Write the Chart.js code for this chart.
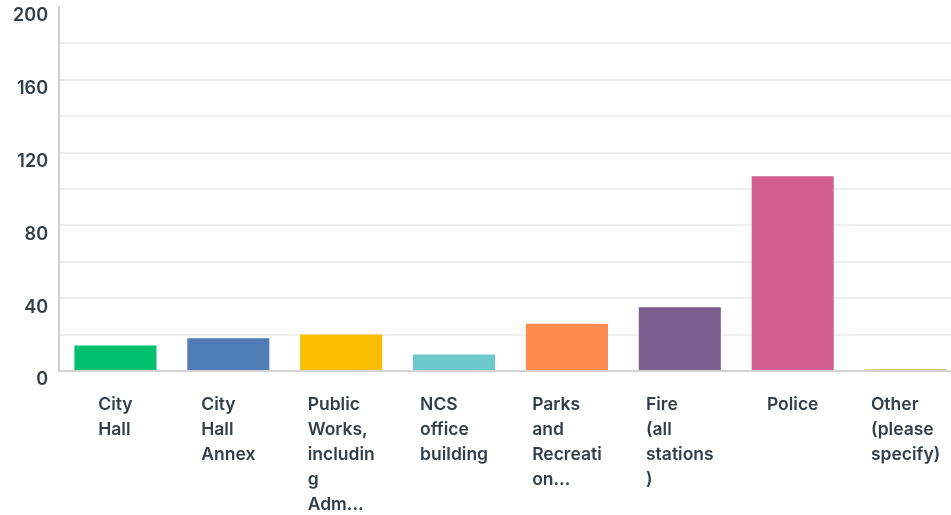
<!DOCTYPE html>
<html>
<head>
<meta charset="utf-8">
<script src="https://cdn.jsdelivr.net/npm/chart.js@4"></script>
<style>
html,body{margin:0;padding:0;background:#fff;overflow:hidden;width:951px;height:515px;}
canvas{display:block;}
</style>
</head>
<body>
<canvas id="c" width="962" height="515"></canvas>
<script>
const categories = [
  ["City","Hall"],
  ["City","Hall","Annex"],
  ["Public","Works,","includin","g","Adm..."],
  ["NCS","office","building"],
  ["Parks","and","Recreati","on..."],
  ["Fire","(all","stations",")"],
  ["Police"],
  ["Other","(please","specify)"]
];
const values = [14, 18, 20, 9, 26, 35, 107, 1];
const barColors = ["#00bf6f","#507cb6","#f9be00","#6bc8cd","#ff8b4f","#7d5e8f","#d25f90","#d4bb6a"];
const yTicks = [0, 40, 80, 120, 160, 200];

const FONT = 'Inter, "Open Sans", sans-serif';
const TEXT = '#333e48';

const xLabelPlugin = {
  id: 'xLabels',
  afterDraw(chart) {
    const ctx = chart.ctx;
    const xs = chart.scales.x;
    ctx.save();
    ctx.font = '600 17.5px ' + FONT;
    ctx.fillStyle = TEXT;
    ctx.textAlign = 'left';
    ctx.textBaseline = 'alphabetic';
    categories.forEach((lines, i) => {
      const cx = xs.getPixelForValue(i);
      const w = Math.max(...lines.map(l => ctx.measureText(l).width));
      const left = cx - w / 2;
      lines.forEach((l, j) => ctx.fillText(l, left, chart.chartArea.bottom + 39 + j * 25));
    });
    ctx.restore();
  }
};

new Chart(document.getElementById('c'), {
  type: 'bar',
  data: {
    labels: categories.map(c => c.join(' ')),
    datasets: [{
      data: values,
      backgroundColor: barColors,
      borderWidth: 0,
      categoryPercentage: 1,
      barPercentage: 0.727
    }]
  },
  options: {
    responsive: false,
    devicePixelRatio: 1,
    animation: false,
    layout: { padding: { top: 7, left: 0, right: 0, bottom: 0 } },
    plugins: { legend: { display: false }, tooltip: { enabled: false } },
    scales: {
      x: {
        afterFit: s => { s.height = 144; s.paddingLeft = 0; s.paddingRight = 0; },
        ticks: { display: false },
        grid: { display: false },
        border: { display: true, color: '#d3d3d3', width: 2 }
      },
      y: {
        min: 0, max: 200,
        afterFit: s => { s.width = 59; s.paddingTop = 0; s.paddingBottom = 0; },
        ticks: {
          stepSize: 20,
          autoSkip: false,
          callback: v => yTicks.includes(v) ? String(v) : '',
          color: TEXT,
          font: { family: FONT, size: 18, weight: '600' },
          padding: 11,
          labelOffset: 9
        },
        grid: {
          color: ctx => (ctx.tick && (ctx.tick.value === 200 || ctx.tick.value === 0)) ? 'rgba(0,0,0,0)' : '#eeeeee',
          lineWidth: 2,
          drawTicks: false
        },
        border: { display: true, color: '#d0d0d0', width: 2 }
      }
    }
  },
  plugins: [xLabelPlugin]
});
</script>
</body>
</html>
